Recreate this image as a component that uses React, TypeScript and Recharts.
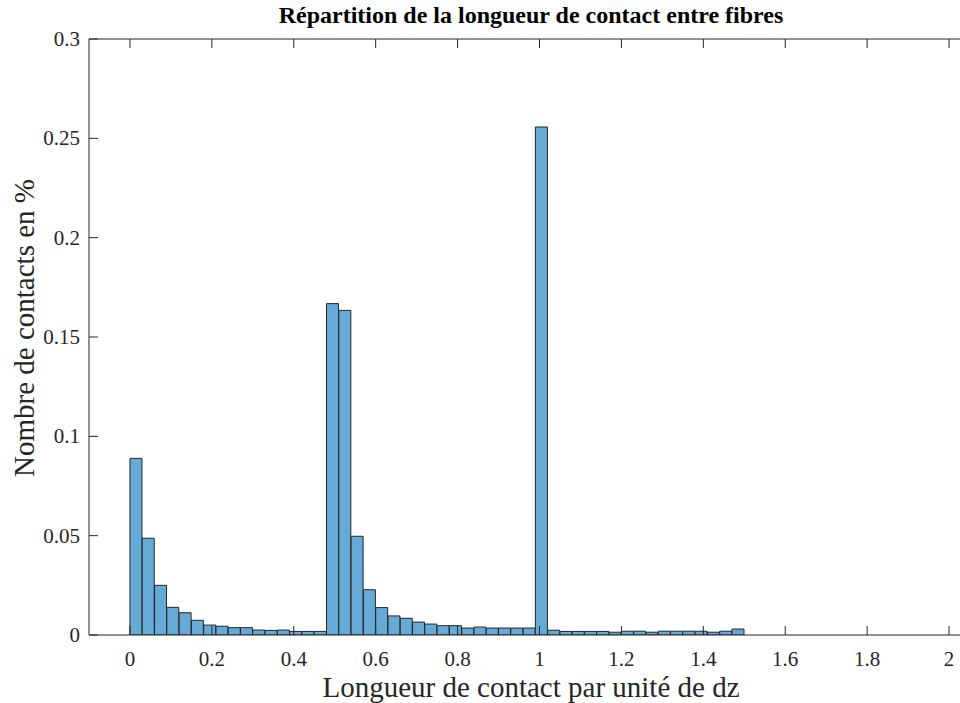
import React from "react";
import { BarChart, Bar, XAxis, YAxis } from "recharts";

// histogram: 50 bins of width 0.03 from 0 to 1.5
const binWidth = 0.03;
const binValues = [
    0.0889, 0.0487, 0.025, 0.0139, 0.0112, 0.0074, 0.005, 0.0044, 0.0037, 0.0037,
    0.0025, 0.0023, 0.0025, 0.0018, 0.0018, 0.0018, 0.1668, 0.1634, 0.0497, 0.0228,
    0.0138, 0.0096, 0.0084, 0.0065, 0.0055, 0.0047, 0.0047, 0.0035, 0.004, 0.0035,
    0.0035, 0.0035, 0.0035, 0.2557, 0.0024, 0.0018, 0.0018, 0.0018, 0.0018, 0.0014,
    0.0019, 0.0019, 0.0014, 0.0019, 0.0019, 0.0019, 0.0019, 0.0014, 0.0019, 0.003,
];
const xTicks = [0, 0.2, 0.4, 0.6, 0.8, 1, 1.2, 1.4, 1.6, 1.8, 2];
const yTicks = [0, 0.05, 0.1, 0.15, 0.2, 0.25, 0.3];

const data = binValues.map((v, i) => ({ center: (i + 0.5) * binWidth, value: v }));

const FONT = "Liberation Serif";
const AXIS = "#262626";
const TICK_LEN = 9;

const BottomTick = (props: any) => {
    const { x, y, payload } = props;
    return (
        <g>
            <line x1={x} y1={y} x2={x} y2={y - TICK_LEN} stroke={AXIS} />
            <text x={x} y={y + 31} textAnchor="middle" style={{ fontFamily: FONT, fontSize: 21 }} fill="#262626">
                {String(payload.value)}
            </text>
        </g>
    );
};

const TopTick = (props: any) => {
    const { x, y } = props;
    return <line x1={x} y1={y} x2={x} y2={y + TICK_LEN} stroke={AXIS} />;
};

const LeftTick = (props: any) => {
    const { x, y, payload } = props;
    return (
        <g>
            <line x1={x} y1={y} x2={x + TICK_LEN} y2={y} stroke={AXIS} />
            <text x={x - 9} y={y + 7} textAnchor="end" style={{ fontFamily: FONT, fontSize: 21 }} fill="#262626">
                {String(payload.value)}
            </text>
        </g>
    );
};

export default function App() {
    return (
        <div
            style={{
                position: "absolute",
                left: 0,
                top: 0,
                width: 960,
                height: 703,
                overflow: "hidden",
                background: "#fff",
                fontFamily: FONT,
            }}
        >
            <div style={{ position: "absolute", left: 0, top: 0 }}>
                <BarChart
                    width={1010}
                    height={703}
                    data={data}
                    margin={{ top: 38, right: 20, bottom: 0, left: 9 }}
                    barCategoryGap={0}
                    barGap={0}
                >
                    <XAxis
                        dataKey="center"
                        type="number"
                        domain={[-0.1, 2.1]}
                        allowDataOverflow
                        ticks={xTicks}
                        interval={0}
                        height={68}
                        tickSize={0}
                        tickMargin={0}
                        tickLine={false}
                        tick={<BottomTick />}
                        axisLine={{ stroke: AXIS }}
                    />
                    <XAxis
                        xAxisId="top"
                        dataKey="center"
                        orientation="top"
                        type="number"
                        domain={[-0.1, 2.1]}
                        allowDataOverflow
                        ticks={xTicks}
                        interval={0}
                        height={1}
                        tickSize={0}
                        tickMargin={0}
                        tickLine={false}
                        tick={<TopTick />}
                        axisLine={{ stroke: AXIS }}
                    />
                    <YAxis
                        type="number"
                        domain={[0, 0.3]}
                        allowDataOverflow
                        ticks={yTicks}
                        interval={0}
                        width={80}
                        tickSize={0}
                        tickMargin={0}
                        tickLine={false}
                        tick={<LeftTick />}
                        axisLine={{ stroke: AXIS }}
                    />
                    <Bar
                        dataKey="value"
                        fill="#66AAD7"
                        stroke="#262626"
                        strokeWidth={1}
                        isAnimationActive={false}
                    />
                    <Bar
                        xAxisId="top"
                        dataKey="value"
                        fill="none"
                        stroke="none"
                        isAnimationActive={false}
                    />
                </BarChart>
            </div>
            <div
                style={{
                    position: "absolute",
                    left: 0,
                    width: 1062,
                    top: 2,
                    textAlign: "center",
                    fontWeight: "bold",
                    fontSize: 24,
                    color: "#000",
                }}
            >
                Répartition de la longueur de contact entre fibres
            </div>
            <div
                style={{
                    position: "absolute",
                    left: 0,
                    width: 1062,
                    top: 673,
                    lineHeight: "29px",
                    textAlign: "center",
                    fontSize: 29,
                    color: "#262626",
                }}
            >
                Longueur de contact par unité de dz
            </div>
            <div
                style={{
                    position: "absolute",
                    left: 24,
                    top: 328,
                    lineHeight: "29px",
                    transform: "translate(-50%, -50%) rotate(-90deg)",
                    whiteSpace: "nowrap",
                    fontSize: 29,
                    color: "#262626",
                }}
            >
                Nombre de contacts en %
            </div>
        </div>
    );
}
